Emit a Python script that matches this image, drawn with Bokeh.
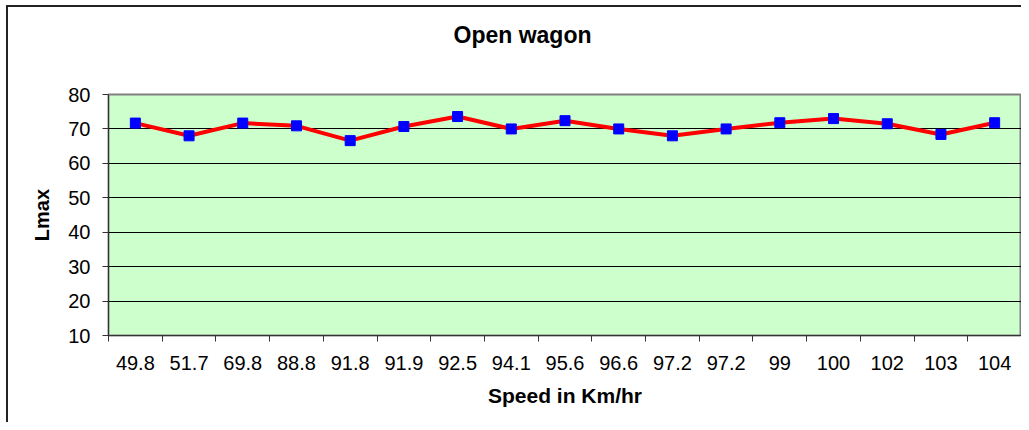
from bokeh.plotting import figure
from bokeh.models import FixedTicker, Range1d, ColumnDataSource, Title
from bokeh.embed import file_html
from bokeh.resources import INLINE

speeds = ["49.8", "51.7", "69.8", "88.8", "91.8", "91.9", "92.5", "94.1", "95.6",
          "96.6", "97.2", "97.2", "99", "100", "102", "103", "104"]
lmax = [71.7, 68.0, 71.7, 70.9, 66.6, 70.7, 73.6, 70.0, 72.4, 70.0, 68.0, 70.0,
        71.8, 73.0, 71.5, 68.4, 71.8]
y_ticks = [10, 20, 30, 40, 50, 60, 70, 80]
title_text = "Open wagon"
x_title = "Speed in Km/hr"
y_title = "Lmax"

FONT = "Liberation Sans"
idx = list(range(len(speeds)))
src = ColumnDataSource(dict(x=idx, y=lmax))

p = figure(width=1021, height=422, output_backend="svg", toolbar_location=None,
           x_range=Range1d(-0.5, len(speeds) - 0.5), y_range=Range1d(10, 80),
           min_border_left=108, min_border_right=0, min_border_top=94, min_border_bottom=87)
p.frame_width = 913
p.frame_height = 241
p.background_fill_color = "#CCFFCC"
p.border_fill_alpha = 0
p.outline_line_color = "#808080"
p.outline_line_width = 2
p.styles = {
    "background-color": "white",
    "background-image": "linear-gradient(#222222, #222222), linear-gradient(#222222, #222222)",
    "background-size": "2px 100%, 100% 2px",
    "background-position": "6px 5px, 6px 5px",
    "background-repeat": "no-repeat",
}

# spacer between title and frame
p.add_layout(Title(text=" ", text_font_size="20px", standoff=18), "above")

p.title.text = title_text
p.title.align = "left"
p.title.offset = 345
p.title.text_font = FONT
p.title.text_font_style = "bold"
p.title.text_font_size = "23px"
p.title.text_color = "black"

p.xgrid.visible = False
p.ygrid.ticker = FixedTicker(ticks=y_ticks)
p.ygrid.grid_line_color = "black"
p.ygrid.grid_line_width = 1

xa = p.xaxis[0]
xa.ticker = FixedTicker(ticks=idx, minor_ticks=[i - 0.5 for i in range(len(speeds) + 1)])
xa.major_label_overrides = {i: s for i, s in enumerate(speeds)}
xa.major_tick_out = 0
xa.major_tick_in = 0
xa.minor_tick_out = 6
xa.minor_tick_in = 0
xa.minor_tick_line_color = "#333333"
xa.axis_line_color = "#333333"
xa.major_label_text_font = FONT
xa.major_label_text_font_size = "20px"
xa.major_label_text_color = "black"
xa.major_label_standoff = 14
xa.axis_label = x_title
xa.axis_label_text_font = FONT
xa.axis_label_text_font_style = "bold"
xa.axis_label_text_font_size = "21px"
xa.axis_label_text_color = "black"
xa.axis_label_standoff = 11

ya = p.yaxis[0]
ya.ticker = FixedTicker(ticks=y_ticks)
ya.major_tick_out = 6
ya.major_tick_in = 0
ya.minor_tick_out = 0
ya.minor_tick_in = 0
ya.major_tick_line_color = "#333333"
ya.axis_line_color = "#333333"
ya.major_label_text_font = FONT
ya.major_label_text_font_size = "20px"
ya.major_label_text_color = "black"
ya.major_label_standoff = 12
ya.axis_label = y_title
ya.axis_label_text_font = FONT
ya.axis_label_text_font_style = "bold"
ya.axis_label_text_font_size = "20px"
ya.axis_label_text_color = "black"
ya.axis_label_standoff = 12

p.line("x", "y", source=src, line_color="#FF0000", line_width=4)
p.scatter("x", "y", source=src, marker="square", size=10, fill_color="#0000FF",
          line_color="#0000FF")

open("out.html", "w").write(file_html(p, INLINE))
